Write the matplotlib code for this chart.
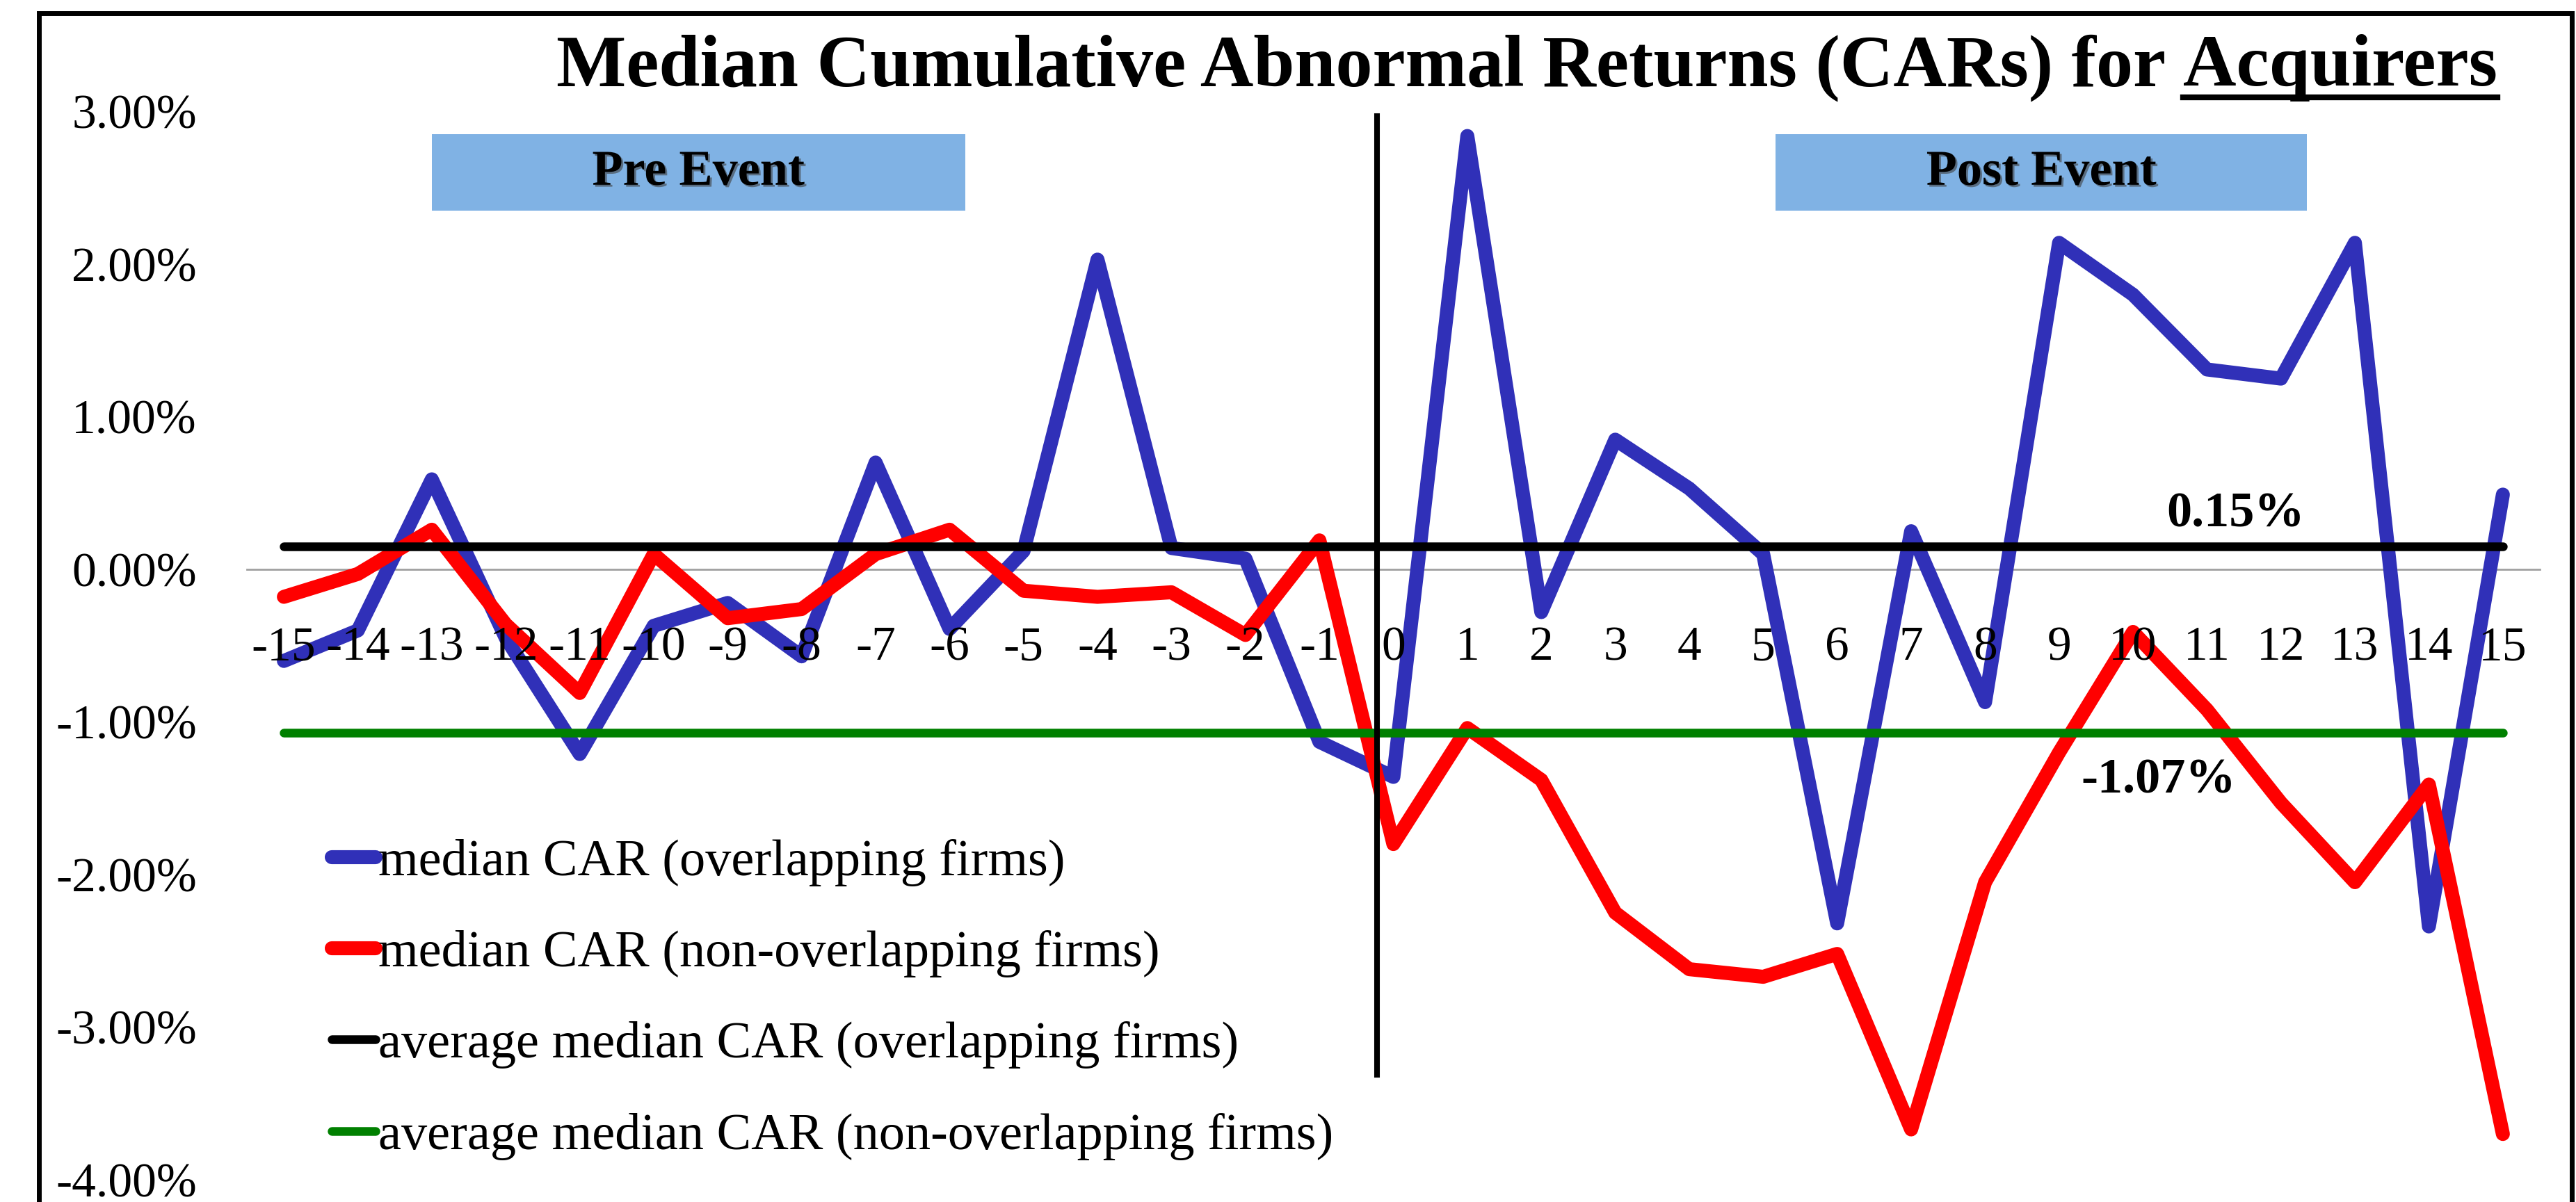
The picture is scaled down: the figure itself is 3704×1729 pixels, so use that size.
import numpy as np
import matplotlib
matplotlib.use("Agg")
import matplotlib.pyplot as plt
import matplotlib.patches as patches
import matplotlib.patheffects as pe
from matplotlib.lines import Line2D

plt.rcParams['font.family'] = ['Liberation Serif', 'DejaVu Serif']

# event days
days = list(range(-15, 16))

# median CAR, overlapping firms (%)
car_overlap = [-0.60, -0.40, 0.59, -0.45, -1.21, -0.37, -0.22, -0.57, 0.70, -0.39,
               0.12, 2.03, 0.14, 0.07, -1.13, -1.36, 2.84, -0.28, 0.85, 0.53,
               0.10, -2.32, 0.25, -0.87, 2.14, 1.80, 1.31, 1.25, 2.14, -2.34, 0.49]

# median CAR, non-overlapping firms (%)
car_nonoverlap = [-0.18, -0.03, 0.26, -0.36, -0.81, 0.10, -0.32, -0.26, 0.10, 0.26,
                  -0.14, -0.18, -0.15, -0.43, 0.19, -1.80, -1.04, -1.38, -2.25, -2.62,
                  -2.67, -2.52, -3.67, -2.05, -1.20, -0.41, -0.92, -1.53, -2.05, -1.41, -3.70]

avg_overlap = 0.15
avg_nonoverlap = -1.07

yticks = [-4, -3, -2, -1, 0, 1, 2, 3]

labels = ["median CAR (overlapping firms)",
          "median CAR (non-overlapping firms)",
          "average median CAR (overlapping firms)",
          "average median CAR (non-overlapping firms)"]

W, H = 3705, 1729
fig = plt.figure(figsize=(W / 100, H / 100), dpi=100)
ax = fig.add_axes([355 / W, 1 - 1697 / H, (3652 - 355) / W, (1697 - 160.5) / H])

FS = 50
FSB = 52
FSL = 53.5

ax.plot(days, car_overlap, color='#3030B8', lw=14.5, solid_capstyle='round',
        solid_joinstyle='round', zorder=2, label=labels[0])
ax.plot(days, car_nonoverlap, color='#FF0000', lw=14.5, solid_capstyle='round',
        solid_joinstyle='round', zorder=2.1, label=labels[1])
ax.plot([days[0], days[-1]], [avg_overlap, avg_overlap], color='black', lw=9,
        solid_capstyle='round', zorder=2.2, label=labels[2])
ax.plot([days[0], days[-1]], [avg_nonoverlap, avg_nonoverlap], color='#008000', lw=9,
        solid_capstyle='round', zorder=2.3, label=labels[3])

# event line
ax.plot([-0.22, -0.22], [2.97, -3.31], color='black', lw=5.8, zorder=3)

ax.set_xlim(-15.5, 15.5)
ax.set_ylim(-4, 3)
ax.set_xticks(days)
ax.set_xticklabels([str(d) for d in days])
ax.set_yticks(yticks)
ax.set_yticklabels(["%.2f%%" % v for v in yticks])

for s in ['top', 'right', 'left']:
    ax.spines[s].set_visible(False)
ax.spines['bottom'].set_position(('data', 0))
ax.spines['bottom'].set_color('#A0A0A0')
ax.spines['bottom'].set_linewidth(2)
ax.spines['bottom'].set_zorder(1)
ax.tick_params(axis='x', length=0, pad=59, labelsize=FS)
ax.tick_params(axis='y', length=0, pad=52, labelsize=FS)
ax.xaxis.set_zorder(5)
ax.patch.set_visible(False)

# Pre / Post event boxes
shadow = [pe.withSimplePatchShadow(offset=(2, -2), shadow_rgbFace='#404040', alpha=0.6)]
for x0, x1, txt in [(-13.0, -5.79, "Pre Event"), (5.17, 12.35, "Post Event")]:
    ax.add_patch(patches.Rectangle((x0, 2.351), x1 - x0, 0.501, facecolor='#80B2E4',
                                   edgecolor='none', zorder=1.5))
    ax.text((x0 + x1) / 2, 2.60, txt, ha='center', va='center', fontsize=FSB,
            fontweight='bold', path_effects=shadow, zorder=4)

ax.text(11.39, 0.36, "%.2f%%" % avg_overlap, ha='center', va='center',
        fontsize=FSB, fontweight='bold', zorder=4)
ax.text(10.34, -1.385, "%.2f%%" % avg_nonoverlap, ha='center', va='center',
        fontsize=FSB, fontweight='bold', zorder=4)

leg = ax.legend(loc='upper left', bbox_to_anchor=(477 / W, 1 - 1207 / H),
                bbox_transform=fig.transFigure, frameon=False, fontsize=FSL,
                handlelength=0.85, handletextpad=0.05, labelspacing=0.85,
                borderpad=0, borderaxespad=0)

# title with underlined last word
TS = 76.4
t2 = fig.text(3591 / W, 1 - 123 / H, "Acquirers", ha='right', va='baseline',
              fontsize=TS, fontweight='bold')
fig.canvas.draw()
r = fig.canvas.get_renderer()
bb = t2.get_window_extent(r)
fig.text(bb.x0 / W, 1 - 123 / H, "Median Cumulative Abnormal Returns (CARs) for ",
         ha='right', va='baseline', fontsize=TS, fontweight='bold')
fig.add_artist(Line2D([bb.x0 / W, bb.x1 / W], [1 - 139.5 / H, 1 - 139.5 / H],
                      color='black', lw=6, transform=fig.transFigure))

# chart border
fig.add_artist(patches.Rectangle((56 / W, -0.2), (3698 - 56) / W, 1.2 - 19 / H,
                                 fill=False, edgecolor='black', lw=5,
                                 transform=fig.transFigure, clip_on=False))

fig.savefig("out.png", dpi=100, facecolor='white')
